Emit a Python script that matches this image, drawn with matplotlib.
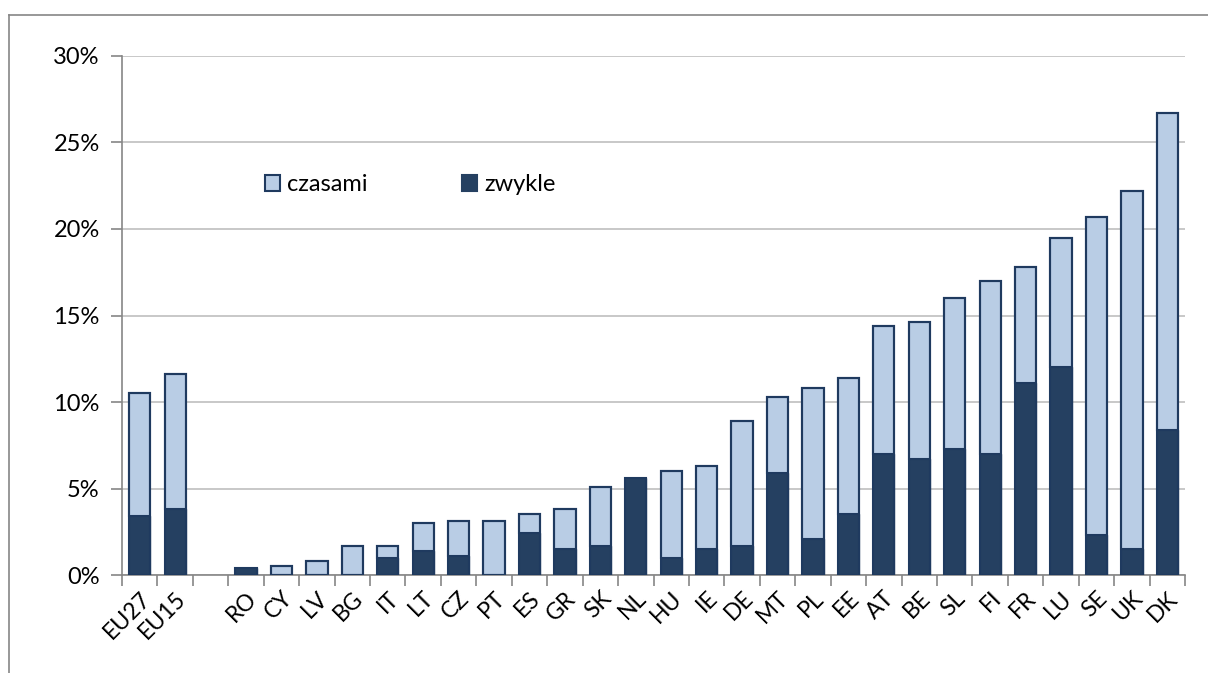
import matplotlib.pyplot as plt
from matplotlib.patches import Patch
from matplotlib.lines import Line2D
import numpy as np

plt.rcParams['font.family'] = ['Lato', 'DejaVu Sans']

countries = ["EU27", "EU15", "", "RO", "CY", "LV", "BG", "IT", "LT", "CZ", "PT",
             "ES", "GR", "SK", "NL", "HU", "IE", "DE", "MT", "PL", "EE", "AT",
             "BE", "SL", "FI", "FR", "LU", "SE", "UK", "DK"]
# share of workers, in percent
total = [10.5, 11.6, 0, 0.4, 0.5, 0.8, 1.7, 1.7, 3.0, 3.1, 3.1,
         3.5, 3.8, 5.1, 5.6, 6.0, 6.3, 8.9, 10.3, 10.8, 11.4, 14.4,
         14.6, 16.0, 17.0, 17.8, 19.5, 20.7, 22.2, 26.7]
zwykle = [3.4, 3.8, 0, 0.4, 0, 0, 0, 1.0, 1.4, 1.1, 0,
          2.4, 1.5, 1.7, 5.6, 1.0, 1.5, 1.7, 5.9, 2.1, 3.5, 7.0,
          6.7, 7.3, 7.0, 11.1, 12.0, 2.3, 1.5, 8.4]

light = "#B9CDE5"
dark = "#254061"
edge = "#1F3A5F"

total = np.array(total)
zwykle = np.array(zwykle)
czasami = total - zwykle
x = np.arange(len(countries))

fig = plt.figure(figsize=(12.08, 6.73), dpi=100)
ax = fig.add_axes([0.101, 0.1456, 0.880, 0.7712])

has_z = zwykle > 0
has_c = czasami > 0.001
ax.bar(x[has_z], zwykle[has_z], width=0.6, color=dark, edgecolor=dark,
       linewidth=1.0, zorder=3)
ax.bar(x[has_c], czasami[has_c], bottom=zwykle[has_c], width=0.6, color=light,
       edgecolor=edge, linewidth=1.5, zorder=3)
# outline of the whole stack
has_t = total > 0
ax.bar(x[has_t], total[has_t], width=0.6, fill=False, edgecolor=edge,
       linewidth=1.5, zorder=4)

ax.set_xlim(-0.5, len(countries) - 0.5)
ax.set_ylim(0, 30)
ax.set_yticks(np.arange(0, 31, 5))
ax.set_yticklabels([f"{v}%" for v in range(0, 31, 5)], fontsize=17)
ax.yaxis.grid(True, color="#BFBFBF", linewidth=1.2, zorder=0)
ax.set_axisbelow(True)

# ticks between categories, labels at centres
ax.set_xticks(np.arange(len(countries) + 1) - 0.5)
ax.set_xticklabels([])
ax.set_xticks(x, minor=True)
ax.set_xticklabels(countries, minor=True, rotation=45, ha="right",
                   rotation_mode="anchor", fontsize=16.5)
ax.tick_params(axis="x", which="minor", length=0, pad=9)
ax.tick_params(axis="x", which="major", length=8, color="#868686", width=1.2)
ax.tick_params(axis="y", length=8, color="#868686", width=1.2, pad=8)

for s in ["top", "right"]:
    ax.spines[s].set_visible(False)
for s in ["left", "bottom"]:
    ax.spines[s].set_color("#868686")
    ax.spines[s].set_linewidth(1.2)

handles = [Patch(facecolor=light, edgecolor=edge, linewidth=1.5, label="czasami"),
           Patch(facecolor=dark, edgecolor=dark, linewidth=1.5, label="zwykle")]
ax.legend(handles=handles, loc="upper left", bbox_to_anchor=(0.1345, 0.772),
          ncol=2, frameon=False, fontsize=17, handlelength=0.64,
          handleheight=0.64, handletextpad=0.3, columnspacing=4.0,
          borderpad=0, borderaxespad=0)

# chart frame
fig.add_artist(Line2D([9 / 1208, 1], [1 - 15 / 673, 1 - 15 / 673],
                      color="#868686", linewidth=1.2, transform=fig.transFigure))
fig.add_artist(Line2D([9 / 1208, 9 / 1208], [0, 1 - 15 / 673],
                      color="#868686", linewidth=1.2, transform=fig.transFigure))

fig.savefig("out.png", dpi=100)
